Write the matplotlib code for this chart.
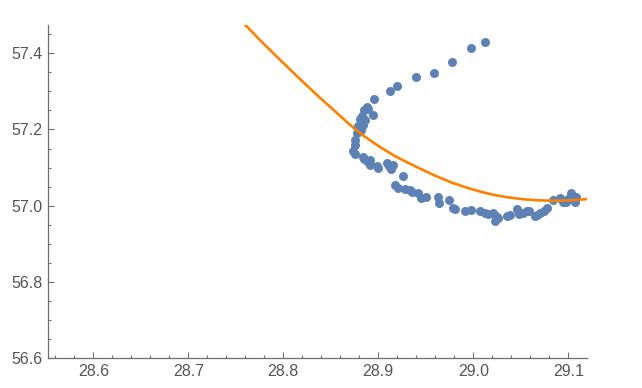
import matplotlib
matplotlib.use("Agg")
import matplotlib.pyplot as plt
from matplotlib.ticker import MultipleLocator, FormatStrFormatter

# scatter data
pts_x = [29.012, 28.998, 28.978, 28.959, 28.940, 28.920, 28.912, 28.895,
         28.888, 28.889, 28.885, 28.894, 28.883, 28.881, 28.886, 28.884,
         28.879, 28.882, 28.878, 28.881, 28.875, 28.875, 28.873, 28.875,
         28.884, 28.885, 28.889, 28.891, 28.891, 28.899, 28.900, 28.909,
         28.911, 28.915, 28.913, 28.926, 28.918, 28.921, 28.928, 28.933,
         28.935, 28.942, 28.945, 28.950, 28.963, 28.964, 28.974, 28.979,
         28.981, 28.991, 28.998, 29.007, 29.012, 29.016, 29.021, 29.024,
         29.026, 29.023, 29.035, 29.039, 29.046, 29.048, 29.052, 29.057,
         29.059, 29.065, 29.067, 29.070, 29.074, 29.078, 29.084, 29.091,
         29.094, 29.098, 29.103, 29.104, 29.107, 29.108, 29.100]
pts_y = [57.429, 57.414, 57.377, 57.348, 57.338, 57.314, 57.301, 57.280,
         57.260, 57.254, 57.252, 57.239, 57.236, 57.227, 57.225, 57.212,
         57.208, 57.199, 57.192, 57.195, 57.173, 57.160, 57.144, 57.135,
         57.129, 57.122, 57.116, 57.107, 57.119, 57.105, 57.098, 57.113,
         57.103, 57.106, 57.096, 57.077, 57.055, 57.046, 57.044, 57.042,
         57.037, 57.033, 57.020, 57.024, 57.024, 57.008, 57.014, 56.994,
         56.991, 56.987, 56.989, 56.985, 56.981, 56.978, 56.981, 56.974,
         56.967, 56.959, 56.974, 56.976, 56.991, 56.979, 56.981, 56.985,
         56.987, 56.972, 56.976, 56.981, 56.987, 56.994, 57.014, 57.020,
         57.011, 57.011, 57.033, 57.017, 57.011, 57.024, 57.017]

# fitted curve
fit_x = [28.7597, 28.7780, 28.7965, 28.8110, 28.8250, 28.8400, 28.8544,
         28.8680, 28.8825, 28.9000, 28.9176, 28.9400, 28.9597, 28.9770,
         28.9947, 29.0090, 29.0228, 29.0380, 29.0530, 29.0702, 29.0850,
         29.0983, 29.1100, 29.1194]
fit_y = [57.4749, 57.4280, 57.3829, 57.3480, 57.3146, 57.2800, 57.2480,
         57.2170, 57.1870, 57.1570, 57.1300, 57.1020, 57.0790, 57.0610,
         57.0462, 57.0360, 57.0280, 57.0215, 57.0170, 57.0140, 57.0132,
         57.0138, 57.0155, 57.0175]

x_range = (28.5526, 29.1194)
y_range = (56.6, 57.474)

plt.rcParams["font.family"] = ["Liberation Sans", "DejaVu Sans"]

fig = plt.figure(figsize=(6.42, 3.88), dpi=100)
ax = fig.add_axes([48.3 / 642, (388 - 358.3) / 388, 538.4 / 642, 333.3 / 388])

ax.scatter(pts_x, pts_y, s=42, color="#5E81B5", linewidths=0, zorder=3,
           clip_on=False)
ax.plot(fit_x, fit_y, color="#FF8000", linewidth=1.9, zorder=4,
        solid_joinstyle="round")

ax.set_xlim(*x_range)
ax.set_ylim(*y_range)

ax.xaxis.set_major_locator(MultipleLocator(0.1))
ax.xaxis.set_minor_locator(MultipleLocator(0.02))
ax.yaxis.set_major_locator(MultipleLocator(0.2))
ax.yaxis.set_minor_locator(MultipleLocator(0.05))
ax.xaxis.set_major_formatter(FormatStrFormatter("%.1f"))
ax.yaxis.set_major_formatter(FormatStrFormatter("%.1f"))

axis_col = "#6E6E6E"
for side in ["top", "right"]:
    ax.spines[side].set_visible(False)
for side in ["bottom", "left"]:
    ax.spines[side].set_color(axis_col)
    ax.spines[side].set_linewidth(0.9)

ax.tick_params(which="both", direction="in", color=axis_col, width=0.8,
               labelcolor="#555555", labelsize=11.5)
ax.tick_params(which="major", length=4.5)
ax.tick_params(which="minor", length=2.5)
ax.tick_params(axis="x", pad=4)
ax.tick_params(axis="y", pad=4)

fig.savefig("out.png", dpi=100, facecolor="white")
